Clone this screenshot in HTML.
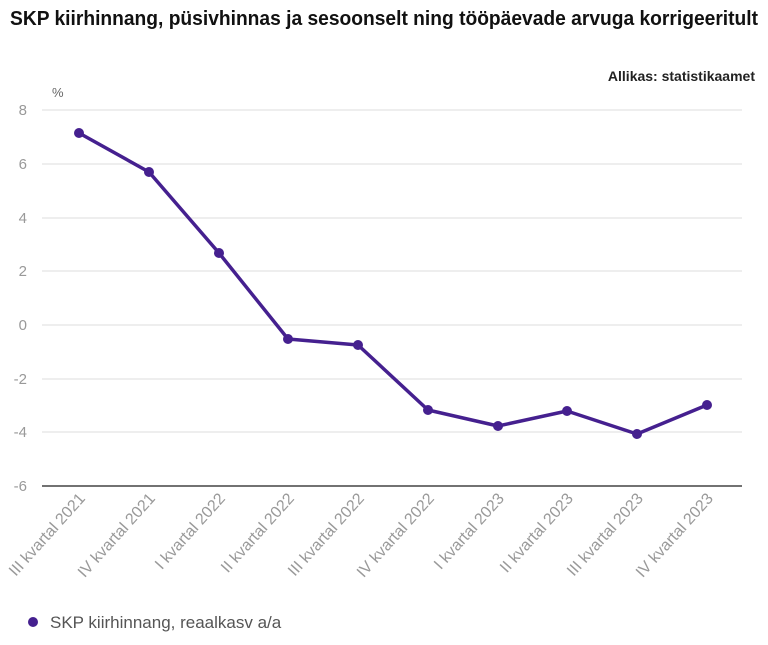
<!DOCTYPE html>
<html><head><meta charset="utf-8"><style>
body{margin:0;background:#fff;font-family:"Liberation Sans",sans-serif}
</style></head><body>
<svg width="768" height="640" xmlns="http://www.w3.org/2000/svg" font-family="Liberation Sans, sans-serif">
<text x="10" y="25" font-size="20" font-weight="bold" fill="#111" textLength="748" lengthAdjust="spacingAndGlyphs">SKP kiirhinnang, püsivhinnas ja sesoonselt ning tööpäevade arvuga korrigeeritult</text>
<text x="755" y="81" font-size="14" font-weight="bold" fill="#222" text-anchor="end">Allikas: statistikaamet</text>
<text x="52" y="97" font-size="13" fill="#666">%</text>
<g stroke="#ddd" stroke-width="1">
<line x1="42" x2="742" y1="110" y2="110"/><line x1="42" x2="742" y1="164" y2="164"/>
<line x1="42" x2="742" y1="218" y2="218"/><line x1="42" x2="742" y1="271" y2="271"/>
<line x1="42" x2="742" y1="325" y2="325"/><line x1="42" x2="742" y1="379" y2="379"/>
<line x1="42" x2="742" y1="432" y2="432"/>
</g>
<line x1="42" x2="742" y1="486" y2="486" stroke="#444" stroke-width="1.5"/>
<g font-size="15" fill="#999" text-anchor="end">
<text x="27" y="115">8</text><text x="27" y="169">6</text><text x="27" y="223">4</text>
<text x="27" y="276">2</text><text x="27" y="330">0</text><text x="27" y="384">-2</text>
<text x="27" y="437">-4</text><text x="27" y="491">-6</text>
</g>
<g font-size="16" fill="#999" text-anchor="end">
<text transform="translate(86,499) rotate(-48)">III kvartal 2021</text>
<text transform="translate(156,499) rotate(-48)">IV kvartal 2021</text>
<text transform="translate(226,499) rotate(-48)">I kvartal 2022</text>
<text transform="translate(295,499) rotate(-48)">II kvartal 2022</text>
<text transform="translate(365,499) rotate(-48)">III kvartal 2022</text>
<text transform="translate(435,499) rotate(-48)">IV kvartal 2022</text>
<text transform="translate(505,499) rotate(-48)">I kvartal 2023</text>
<text transform="translate(574,499) rotate(-48)">II kvartal 2023</text>
<text transform="translate(644,499) rotate(-48)">III kvartal 2023</text>
<text transform="translate(714,499) rotate(-48)">IV kvartal 2023</text>
</g>
<polyline fill="none" stroke="#45208f" stroke-width="3.5" stroke-linejoin="round" points="79,133 149,172 219,253 288,339 358,345 428,410 498,426 567,411 637,434 707,405"/>
<g fill="#45208f">
<circle cx="79" cy="133" r="5"/><circle cx="149" cy="172" r="5"/><circle cx="219" cy="253" r="5"/>
<circle cx="288" cy="339" r="5"/><circle cx="358" cy="345" r="5"/><circle cx="428" cy="410" r="5"/>
<circle cx="498" cy="426" r="5"/><circle cx="567" cy="411" r="5"/><circle cx="637" cy="434" r="5"/>
<circle cx="707" cy="405" r="5"/>
<circle cx="33" cy="622" r="5"/>
</g>
<text x="50" y="628" font-size="17" fill="#555">SKP kiirhinnang, reaalkasv a/a</text>
</svg>
</body></html>
